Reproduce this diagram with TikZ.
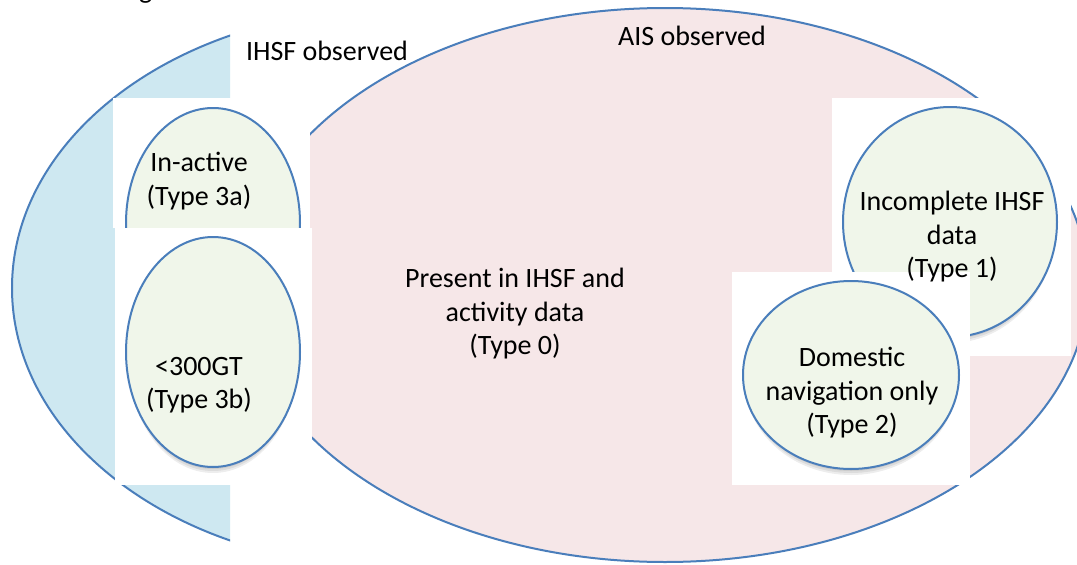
\documentclass[tikz,border=0pt]{standalone}
\usepackage{fontspec}
\setmainfont{Carlito}
\definecolor{edgeblue}{RGB}{74,126,187}
\definecolor{ihsfblue}{RGB}{206,232,241}
\definecolor{aispink}{RGB}{246,231,232}
\definecolor{typegreen}{RGB}{240,246,234}
\tikzset{
  setline/.style={draw=edgeblue, line width=2pt},
  ihsfset/.style={setline, fill=ihsfblue},
  aisset/.style={setline, fill=aispink},
  typeset/.style={setline, fill=typegreen},
  whitepatch/.style={fill=white, draw=none},
  shadowlayer/.style={fill=black, opacity=0.07, draw=none},
  lbl/.style={font=\fontsize{28}{33.5}\selectfont, text=black, align=center, inner sep=0pt}
}
\begin{document}
\begin{tikzpicture}[x=1pt,y=-1pt]
\useasboundingbox (0,0) rectangle (1077,565);
\clip (0,0) rectangle (1077,565);
\fill[white] (0,0) rectangle (1077,565);

% cut-off fragment at the top
\node[lbl, anchor=base west] (frag) at (139,-1.6) {g};

% IHSF observed set (only its left part shows)
\begin{scope}
  \clip (-5,-5) rectangle (230,570);
  \path[ihsfset] (392,288) ellipse [x radius=380, y radius=279];
\end{scope}

% AIS observed set
\path[aisset] (665,285) ellipse [x radius=423, y radius=277];

% left patches with Type 3a / 3b
\path[whitepatch] (113,98) rectangle (310,228);
\path[typeset] (213,223) ellipse [x radius=87, y radius=115];
\path[whitepatch] (115,228) rectangle (312,485);
\foreach \d in {2,4,6} {\path[shadowlayer] (213,352+\d) ellipse [x radius=85, y radius=115];}
\path[typeset] (213,352) ellipse [x radius=87, y radius=115];

% right patches with Type 1 / Type 2
\path[whitepatch] (832,98) rectangle (1071,356);
\foreach \d in {2,4,6} {\path[shadowlayer] (950,222+\d) ellipse [x radius=105, y radius=115];}
\path[typeset] (950,222) ellipse [x radius=107, y radius=115];
\path[whitepatch] (732,272) rectangle (970,485);
\foreach \d in {2,4,6} {\path[shadowlayer] (851,375+\d) ellipse [x radius=106, y radius=94];}
\path[typeset] (851,375) ellipse [x radius=108, y radius=94];

% labels
\node[lbl] (ihsf) at (327,51) {IHSF observed};
\node[lbl] (ais) at (692,36) {AIS observed};
\node[lbl] (t3a) at (199,181) {In-active\\(Type 3a)};
\node[lbl] (t3b) at (199,385) {<300GT\\(Type 3b)};
\node[lbl] (t0) at (515,314) {Present in IHSF and\\activity data\\(Type 0)};
\node[lbl] (t1) at (952,237) {Incomplete IHSF\\data\\(Type 1)};
\node[lbl] (t2) at (852,393) {Domestic\\navigation only\\(Type 2)};
\end{tikzpicture}
\end{document}
